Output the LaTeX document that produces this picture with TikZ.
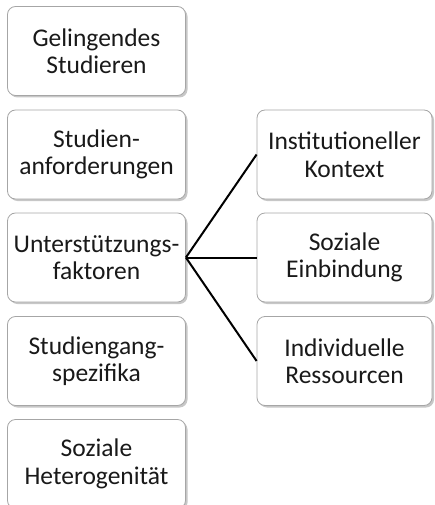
\documentclass[tikz,border=0pt]{standalone}
\usepackage{fontspec}
\setmainfont{Carlito}
\usetikzlibrary{shadows}

\begin{document}
\begin{tikzpicture}[x=1pt,y=-1pt,
	kasten/.style = {draw=gray!70, fill=white, rounded corners=8pt, line width=0.8pt,
		minimum width=178pt, minimum height=89pt, align=center, text=black!90,
		font=\fontsize{25.5}{27.5}\selectfont,
		drop shadow={shadow xshift=2pt, shadow yshift=-2pt, fill=gray!55, opacity=0.8}}]
		\useasboundingbox (0,0) rectangle (434,505);
		\node[kasten] (A) at (96.5,51) {Gelingendes\\Studieren};
		\node[kasten] (B) at (96.5,154.5) {Studien-\\anforderungen};
		\node[kasten] (C) at (96.5,257.5) {Unterstützungs-\\faktoren};
		\node[kasten] (D) at (96.5,361) {Studiengang-\\spezifika};
		\node[kasten] (E) at (96.5,464) {Soziale\\Heterogenität};
		\node[kasten, minimum width=175pt] (F) at (344.5,154.5) {Institutioneller\\Kontext};
		\node[kasten, minimum width=175pt] (G) at (344.5,257.5) {Soziale\\Einbindung};
		\node[kasten, minimum width=175pt] (H) at (344.5,361) {Individuelle\\Ressourcen};
		
		\draw[line width=2pt] (C.east) -- (F.west);
		\draw[line width=2pt] (C.east) -- (G.west);
		\draw[line width=2pt] (C.east) -- (H.west);
	\end{tikzpicture}
\end{document}
